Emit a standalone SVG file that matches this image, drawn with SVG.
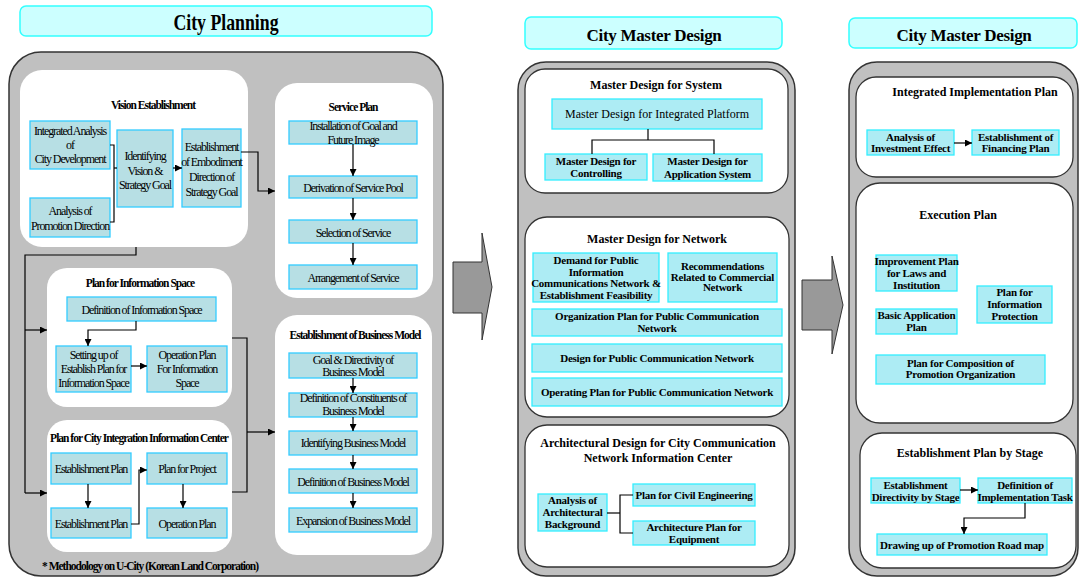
<svg xmlns="http://www.w3.org/2000/svg" width="1079" height="579" viewBox="0 0 1079 579">
<style>
text{font-family:"Liberation Serif","Times New Roman",serif;text-anchor:middle;fill:#000}
.lt{font-size:12px;letter-spacing:-1.1px}
.lh{font-size:11.5px;font-weight:bold;letter-spacing:-1px}
.mt{font-size:11px;font-weight:bold;letter-spacing:-0.25px}
.mr{font-size:12px}
.mh{font-size:12px;font-weight:bold}
.tt{font-size:17px;font-weight:bold;letter-spacing:-0.3px}
.bar{fill:#ccffff;stroke:#33ffff;stroke-width:1.5}
.gp{fill:#c0c0c0;stroke:#333;stroke-width:1.5}
.wp{fill:#fff}
.ws{fill:#fff;stroke:#333;stroke-width:1.3}
.lb{fill:#b7dfe4;stroke:#33ccff;stroke-width:1.3}
.mb{fill:#adecf4;stroke:#33eeff;stroke-width:1.3}
.bigarrow{fill:#999;stroke:#333;stroke-width:1}
.cn{fill:none;stroke:#000;stroke-width:1.2}
</style>
<defs>
<marker id="ah" markerUnits="userSpaceOnUse" markerWidth="7" markerHeight="7" refX="7" refY="3.5" orient="auto">
<path d="M0,0 L7,3.5 L0,7 z" fill="#000"/>
</marker>
</defs>

<!-- Titles -->
<g id="title-city-planning">
<rect class="bar" x="20" y="6" width="412" height="30" rx="6"/>
<text x="226" y="30" font-size="24" font-weight="bold" transform="translate(226,0) scale(0.74,1) translate(-226,0)">City Planning</text>
</g>
<g id="title-master-1">
<rect class="bar" x="525" y="17" width="257" height="32" rx="6"/>
<text class="tt" x="654" y="41">City Master Design</text>
</g>
<g id="title-master-2">
<rect class="bar" x="849" y="18" width="228" height="30" rx="6"/>
<text class="tt" x="964" y="41">City Master Design</text>
</g>

<!-- Panels -->
<g id="panel-left"><rect class="gp" x="9" y="52" width="434" height="524" rx="32"/></g>
<g id="panel-mid"><rect class="gp" x="518" y="62" width="277" height="514" rx="28"/></g>
<g id="panel-right"><rect class="gp" x="849" y="62" width="229" height="514" rx="28"/></g>

<g id="big-arrow-1"><polygon class="bigarrow" points="453,262 482,262 482,233 492,287 482,340 482,313 453,313"/></g>
<g id="big-arrow-2"><polygon class="bigarrow" points="802,280 832,280 832,256 843,305 832,354 832,330 802,330"/></g>

<!-- Vision Establishment -->
<g id="vision">
<rect class="wp" x="20" y="70" width="228" height="177" rx="22"/>
<text class="lh" x="153" y="109">Vision Establishment</text>
</g>
<g id="v-integrated">
<rect class="lb" x="30" y="121" width="80" height="48"/>
<text class="lt"><tspan x="70" y="135">Integrated Analysis</tspan><tspan x="70" y="149">of</tspan><tspan x="70" y="163">City Development</tspan></text>
</g>
<g id="v-promotion">
<rect class="lb" x="30" y="198" width="80" height="39"/>
<text class="lt"><tspan x="70" y="215">Analysis of</tspan><tspan x="70" y="230">Promotion Direction</tspan></text>
</g>
<g id="v-identifying">
<rect class="lb" x="117" y="130" width="56" height="77"/>
<text class="lt"><tspan x="145" y="160">Identifying</tspan><tspan x="145" y="175">Vision &amp;</tspan><tspan x="145" y="189">Strategy Goal</tspan></text>
</g>
<g id="v-embodiment">
<rect class="lb" x="182" y="129" width="59" height="78"/>
<text class="lt"><tspan x="211.5" y="151">Establishment</tspan><tspan x="211.5" y="166">of Embodiment</tspan><tspan x="211.5" y="181">Direction of</tspan><tspan x="211.5" y="196">Strategy Goal</tspan></text>
</g>

<!-- Service Plan -->
<g id="service">
<rect class="wp" x="275" y="83" width="158" height="215" rx="22"/>
<text class="lh" x="353" y="111">Service Plan</text>
</g>
<g id="s-installation">
<rect class="lb" x="289" y="121" width="128" height="23"/>
<text class="lt"><tspan x="353" y="130">Installation of Goal and</tspan><tspan x="353" y="144">Future Image</tspan></text>
</g>
<g id="s-derivation">
<rect class="lb" x="289" y="176" width="128" height="22"/>
<text class="lt" x="353" y="192">Derivation of Service Pool</text>
</g>
<g id="s-selection">
<rect class="lb" x="289" y="220" width="128" height="23"/>
<text class="lt" x="353" y="237">Selection of Service</text>
</g>
<g id="s-arrangement">
<rect class="lb" x="289" y="265" width="128" height="24"/>
<text class="lt" x="353" y="282">Arrangement of Service</text>
</g>

<!-- Plan for Information Space -->
<g id="infospace">
<rect class="wp" x="47" y="268" width="185" height="139" rx="20"/>
<text class="lh" x="140" y="287">Plan for Information Space</text>
</g>
<g id="i-definition">
<rect class="lb" x="67" y="297" width="149" height="24"/>
<text class="lt" x="141.5" y="314">Definition of Information Space</text>
</g>
<g id="i-setting">
<rect class="lb" x="56" y="346" width="75" height="46"/>
<text class="lt"><tspan x="93.5" y="359">Setting up of</tspan><tspan x="93.5" y="373">Establish Plan for</tspan><tspan x="93.5" y="387">Information Space</tspan></text>
</g>
<g id="i-operation">
<rect class="lb" x="147" y="346" width="80" height="46"/>
<text class="lt"><tspan x="187" y="359">Operation Plan</tspan><tspan x="187" y="373">For Information</tspan><tspan x="187" y="387">Space</tspan></text>
</g>

<!-- Plan for City Integration Information Center -->
<g id="citycenter">
<rect class="wp" x="47" y="420" width="185" height="132" rx="20"/>
<text class="lh" x="139" y="442">Plan for City Integration Information Center</text>
</g>
<g id="c-establish1">
<rect class="lb" x="51" y="453" width="80" height="31"/>
<text class="lt" x="91" y="473">Establishment Plan</text>
</g>
<g id="c-project">
<rect class="lb" x="147" y="453" width="80" height="31"/>
<text class="lt" x="187" y="473">Plan for Project</text>
</g>
<g id="c-establish2">
<rect class="lb" x="51" y="508" width="80" height="30"/>
<text class="lt" x="91" y="528">Establishment Plan</text>
</g>
<g id="c-operation">
<rect class="lb" x="147" y="508" width="80" height="30"/>
<text class="lt" x="187" y="528">Operation Plan</text>
</g>

<!-- Business Model -->
<g id="business">
<rect class="wp" x="275" y="315" width="157" height="240" rx="22"/>
<text class="lh" x="355" y="339">Establishment of Business Model</text>
</g>
<g id="b-goal">
<rect class="lb" x="289" y="353" width="128" height="25"/>
<text class="lt"><tspan x="353" y="364">Goal &amp; Directivity of</tspan><tspan x="353" y="376">Business Model</tspan></text>
</g>
<g id="b-constituents">
<rect class="lb" x="289" y="393" width="128" height="24"/>
<text class="lt"><tspan x="353" y="402">Definition of Constituents of</tspan><tspan x="353" y="415">Business Model</tspan></text>
</g>
<g id="b-identifying">
<rect class="lb" x="289" y="431" width="128" height="24"/>
<text class="lt" x="353" y="447">Identifying Business Model</text>
</g>
<g id="b-definition">
<rect class="lb" x="289" y="469" width="128" height="24"/>
<text class="lt" x="353" y="486">Definition of Business Model</text>
</g>
<g id="b-expansion">
<rect class="lb" x="289" y="508" width="128" height="24"/>
<text class="lt" x="353" y="525">Expansion of Business Model</text>
</g>

<g id="footnote">
<text class="lh" x="150" y="570">* Methodology on U-City (Korean Land Corporation)</text>
</g>

<!-- Master Design for System -->
<g id="system">
<rect class="ws" x="525" y="69" width="263" height="124" rx="20"/>
<text class="mh" x="656" y="89">Master Design for System</text>
</g>
<g id="m-platform">
<rect class="mb" x="552" y="99" width="210" height="30"/>
<text class="mr" x="657" y="118">Master Design  for Integrated Platform</text>
</g>
<g id="m-controlling">
<rect class="mb" x="545" y="154" width="102" height="26"/>
<text class="mt"><tspan x="596" y="165">Master Design for</tspan><tspan x="596" y="177">Controlling</tspan></text>
</g>
<g id="m-application">
<rect class="mb" x="653" y="154" width="109" height="27"/>
<text class="mt"><tspan x="707.5" y="165">Master Design for</tspan><tspan x="707.5" y="178">Application System</tspan></text>
</g>

<!-- Master Design for Network -->
<g id="network">
<rect class="ws" x="525" y="217" width="264" height="200" rx="22"/>
<text class="mh" x="657" y="243">Master Design for Network</text>
</g>
<g id="n-demand">
<rect class="mb" x="533" y="253" width="126" height="49"/>
<text class="mt"><tspan x="596" y="264">Demand for Public</tspan><tspan x="596" y="276">Information</tspan><tspan x="596" y="287">Communications Network &amp;</tspan><tspan x="596" y="299">Establishment Feasibility</tspan></text>
</g>
<g id="n-recommend">
<rect class="mb" x="668" y="253" width="109" height="49"/>
<text class="mt"><tspan x="722.5" y="270">Recommendations</tspan><tspan x="722.5" y="281">Related to Commercial</tspan><tspan x="722.5" y="291">Network</tspan></text>
</g>
<g id="n-organization">
<rect class="mb" x="532" y="309" width="250" height="27"/>
<text class="mt"><tspan x="657" y="320">Organization Plan  for Public Communication</tspan><tspan x="657" y="332">Network</tspan></text>
</g>
<g id="n-design">
<rect class="mb" x="532" y="344" width="250" height="28"/>
<text class="mt" x="657" y="362">Design for Public Communication Network</text>
</g>
<g id="n-operating">
<rect class="mb" x="532" y="378" width="250" height="28"/>
<text class="mt" x="657" y="396">Operating Plan for Public Communication Network</text>
</g>

<!-- Architectural Design -->
<g id="architectural">
<rect class="ws" x="525" y="425" width="264" height="142" rx="22"/>
<text class="mh"><tspan x="658" y="447">Architectural Design for City Communication</tspan><tspan x="658" y="462">Network Information Center</tspan></text>
</g>
<g id="a-analysis">
<rect class="mb" x="538" y="494" width="69" height="37"/>
<text class="mt"><tspan x="572.5" y="504">Analysis of</tspan><tspan x="572.5" y="516">Architectural</tspan><tspan x="572.5" y="528">Background</tspan></text>
</g>
<g id="a-civil">
<rect class="mb" x="633" y="484" width="122" height="22"/>
<text class="mt" x="694" y="499">Plan for Civil Engineering</text>
</g>
<g id="a-equipment">
<rect class="mb" x="633" y="521" width="122" height="24"/>
<text class="mt"><tspan x="694" y="531">Architecture Plan for</tspan><tspan x="694" y="543">Equipment</tspan></text>
</g>

<!-- Integrated Implementation Plan -->
<g id="implementation">
<rect class="ws" x="856" y="77" width="217" height="100" rx="20"/>
<text class="mh" x="975" y="96">Integrated Implementation Plan</text>
</g>
<g id="r-investment">
<rect class="mb" x="867" y="130" width="87" height="25"/>
<text class="mt"><tspan x="910.5" y="141">Analysis of</tspan><tspan x="910.5" y="152">Investment Effect</tspan></text>
</g>
<g id="r-financing">
<rect class="mb" x="972" y="130" width="87" height="25"/>
<text class="mt"><tspan x="1015.5" y="141">Establishment of</tspan><tspan x="1015.5" y="152">Financing Plan</tspan></text>
</g>

<!-- Execution Plan -->
<g id="execution">
<rect class="ws" x="856" y="183" width="217" height="240" rx="24"/>
<text class="mh" x="958" y="219">Execution Plan</text>
</g>
<g id="e-laws">
<rect class="mb" x="876" y="255" width="81" height="36"/>
<text class="mt"><tspan x="916.5" y="265">Improvement Plan</tspan><tspan x="916.5" y="277">for Laws and</tspan><tspan x="916.5" y="289">Institution</tspan></text>
</g>
<g id="e-basic">
<rect class="mb" x="876" y="309" width="81" height="25"/>
<text class="mt"><tspan x="916.5" y="319">Basic Application</tspan><tspan x="916.5" y="331">Plan</tspan></text>
</g>
<g id="e-protection">
<rect class="mb" x="977" y="286" width="75" height="37"/>
<text class="mt"><tspan x="1014.5" y="296">Plan for</tspan><tspan x="1014.5" y="308">Information</tspan><tspan x="1014.5" y="320">Protection</tspan></text>
</g>
<g id="e-composition">
<rect class="mb" x="876" y="355" width="169" height="29"/>
<text class="mt"><tspan x="960.5" y="367">Plan for Composition of</tspan><tspan x="960.5" y="378">Promotion Organization</tspan></text>
</g>

<!-- Establishment Plan by Stage -->
<g id="stage">
<rect class="ws" x="860" y="433" width="216" height="135" rx="22"/>
<text class="mh" x="970" y="457">Establishment Plan by Stage</text>
</g>
<g id="st-directivity">
<rect class="mb" x="871" y="478" width="89" height="25"/>
<text class="mt"><tspan x="915.5" y="489">Establishment</tspan><tspan x="915.5" y="501">Directivity by Stage</tspan></text>
</g>
<g id="st-task">
<rect class="mb" x="978" y="478" width="94" height="25"/>
<text class="mt"><tspan x="1025" y="489">Definition of</tspan><tspan x="1025" y="501">Implementation Task</tspan></text>
</g>
<g id="st-roadmap">
<rect class="mb" x="877" y="534" width="170" height="21"/>
<text class="mt" x="962" y="549">Drawing up of Promotion Road map</text>
</g>

<!-- Connectors -->
<g id="connectors">
<polyline class="cn" points="110,145 114,145 114,222 110,222"/>
<line class="cn" x1="114" y1="168" x2="117" y2="168"/>
<line class="cn" x1="173" y1="168" x2="182" y2="168" marker-end="url(#ah)"/>
<polyline class="cn" points="241,152 258,152 258,191 275,191" marker-end="url(#ah)"/>
<polyline class="cn" points="136,247 136,255 25,255 25,493"/>
<line class="cn" x1="25" y1="330" x2="47" y2="330" marker-end="url(#ah)"/>
<line class="cn" x1="25" y1="493" x2="47" y2="493" marker-end="url(#ah)"/>
<polyline class="cn" points="136,321 136,330 88,330 88,346" marker-end="url(#ah)"/>
<line class="cn" x1="131" y1="366" x2="147" y2="366" marker-end="url(#ah)"/>
<line class="cn" x1="88" y1="484" x2="88" y2="508" marker-end="url(#ah)"/>
<line class="cn" x1="183" y1="484" x2="183" y2="508" marker-end="url(#ah)"/>
<polyline class="cn" points="131,524 139,524 139,470 147,470" marker-end="url(#ah)"/>
<polyline class="cn" points="232,338 247,338 247,492 232,492"/>
<line class="cn" x1="247" y1="432" x2="275" y2="432" marker-end="url(#ah)"/>
<line class="cn" x1="353" y1="144" x2="353" y2="176" marker-end="url(#ah)"/>
<line class="cn" x1="353" y1="198" x2="353" y2="220" marker-end="url(#ah)"/>
<line class="cn" x1="353" y1="243" x2="353" y2="265" marker-end="url(#ah)"/>
<line class="cn" x1="353" y1="378" x2="353" y2="393" marker-end="url(#ah)"/>
<line class="cn" x1="353" y1="417" x2="353" y2="431" marker-end="url(#ah)"/>
<line class="cn" x1="353" y1="455" x2="353" y2="469" marker-end="url(#ah)"/>
<line class="cn" x1="353" y1="493" x2="353" y2="508" marker-end="url(#ah)"/>
<line class="cn" x1="648" y1="129" x2="648" y2="140"/>
<polyline class="cn" points="592,154 592,140 714,140 714,154"/>
<polyline class="cn" points="607,513 620,513"/>
<polyline class="cn" points="633,495 620,495 620,533 633,533"/>
<line class="cn" x1="954" y1="143" x2="972" y2="143" marker-end="url(#ah)"/>
<line class="cn" x1="960" y1="490" x2="978" y2="490" marker-end="url(#ah)"/>
<polyline class="cn" points="1025,503 1025,518 964,518 964,534" marker-end="url(#ah)"/>
</g>
</svg>
